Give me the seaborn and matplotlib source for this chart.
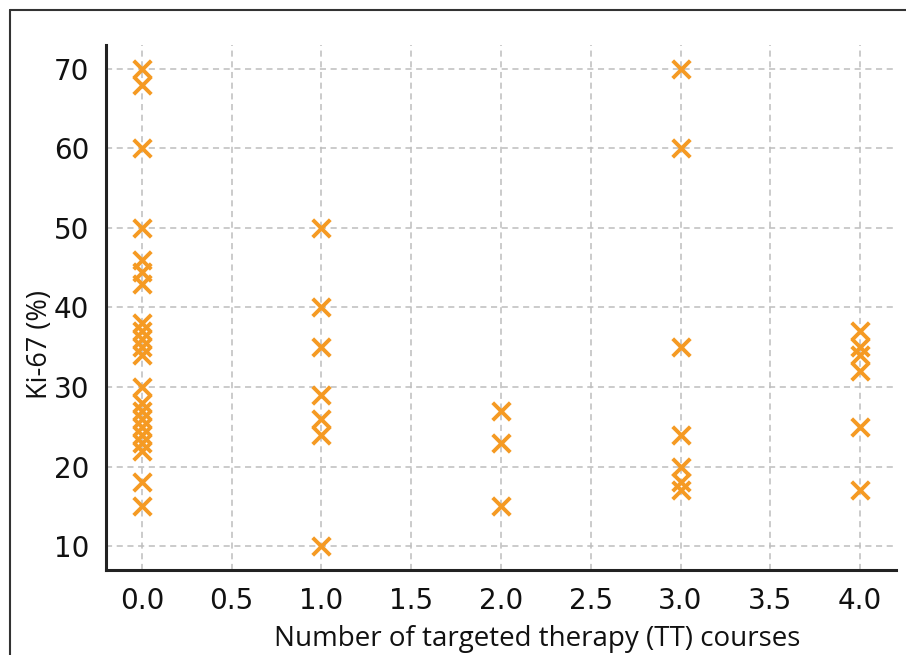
import matplotlib
matplotlib.use("Agg")
import matplotlib.pyplot as plt
import seaborn as sns
import pandas as pd

# Data
courses_0 = [70, 68, 60, 50, 46, 44.5, 43, 38, 37, 36, 35, 34, 30, 28, 27, 26, 25, 24, 23, 22, 18, 15]
courses_1 = [50, 40, 35, 29, 26, 24, 10]
courses_2 = [27, 23, 15]
courses_3 = [70, 60, 35, 24, 20, 18, 17]
courses_4 = [37, 35, 34, 32, 25, 17]

x_vals = [0.0] * len(courses_0) + [1.0] * len(courses_1) + [2.0] * len(courses_2) \
    + [3.0] * len(courses_3) + [4.0] * len(courses_4)
y_vals = courses_0 + courses_1 + courses_2 + courses_3 + courses_4
df = pd.DataFrame({"courses": x_vals, "ki67": y_vals})

xticks = [0.0, 0.5, 1.0, 1.5, 2.0, 2.5, 3.0, 3.5, 4.0]
yticks = [10, 20, 30, 40, 50, 60, 70]

sns.set_theme(style="white")
plt.rcParams["font.family"] = ["DejaVu Sans"]

fig = plt.figure(figsize=(9.06, 6.55), dpi=100)
ax = fig.add_axes([106 / 906, 1 - 570 / 655, (896 - 106) / 906, (570 - 45) / 655])

sns.scatterplot(data=df, x="courses", y="ki67", ax=ax, marker="x", s=160,
                color="#f59a23", linewidth=2.8, legend=False, zorder=3)

ax.set_xlim(-0.2, 4.2)
ax.set_ylim(7, 73)
ax.set_xticks(xticks)
ax.set_xticklabels([f"{t:.1f}" for t in xticks])
ax.set_yticks(yticks)
ax.grid(True, linestyle=(0, (4, 3)), color="#bdbdbd", linewidth=1.1)
ax.set_axisbelow(True)
for side in ["top", "right"]:
    ax.spines[side].set_visible(False)
for side in ["left", "bottom"]:
    ax.spines[side].set_color("#222222")
    ax.spines[side].set_linewidth(2.2)
ax.tick_params(axis="both", which="major", length=7, width=2, color="#222222",
               labelsize=20, labelcolor="#111111", direction="out", pad=5)
ax.set_xlabel("Number of targeted therapy (TT) courses", fontsize=20,
              family="Open Sans", color="#111111")
ax.xaxis.set_label_coords(0.546, -0.105)
ax.set_ylabel("Ki-67 (%)", fontsize=19.5, family="Open Sans", color="#111111")
ax.yaxis.set_label_coords(-0.066, 0.43)

# outer frame of the figure image
fig.add_artist(plt.Line2D([10 / 906, 1.0], [1 - 10 / 655, 1 - 10 / 655],
                          transform=fig.transFigure, color="#333333", linewidth=1.5))
fig.add_artist(plt.Line2D([10 / 906, 10 / 906], [0, 1 - 10 / 655],
                          transform=fig.transFigure, color="#333333", linewidth=1.5))

fig.savefig("out.png", dpi=100)
